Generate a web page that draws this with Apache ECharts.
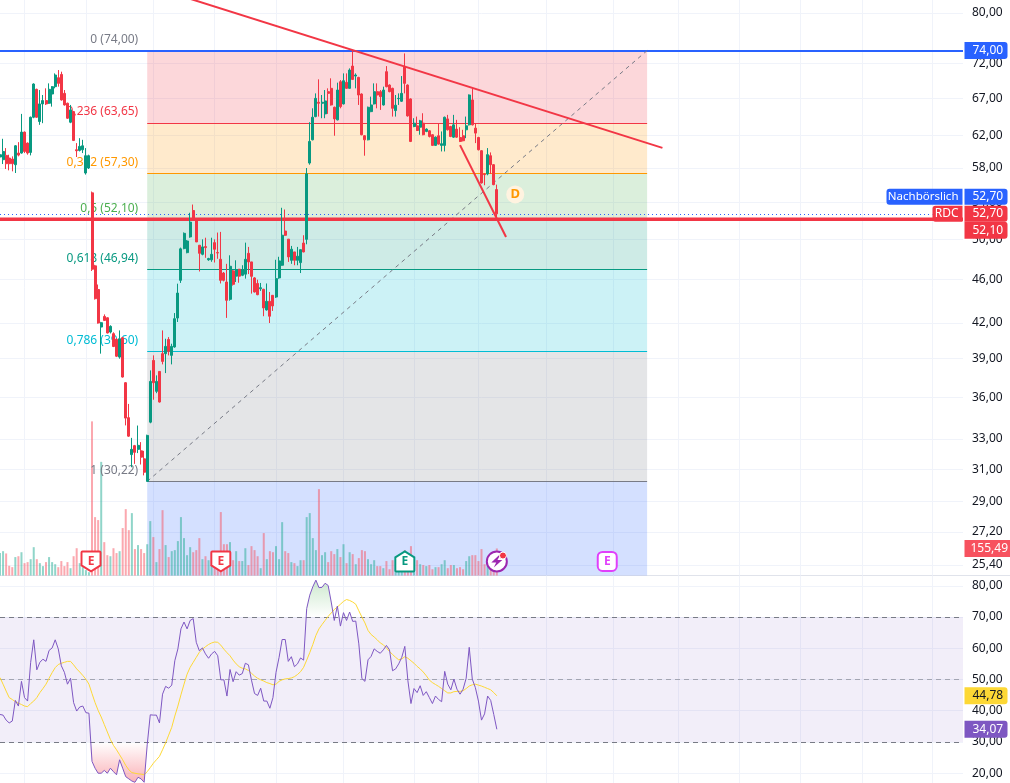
<!DOCTYPE html>
<html><head><meta charset="utf-8">
<style>html,body{margin:0;padding:0;background:#fff}#c{width:1010px;height:783px}</style>
<script src="https://cdn.jsdelivr.net/npm/echarts@6/dist/echarts.min.js"></script>
</head><body><div id="c"></div>
<script>
const opens=[59.31,58.98,59.51,59.18,59.06,58.37,59.8,59.8,62.46,61.05,59.88,64.42,68.27,63.85,66.23,66.69,66.32,67.61,68.65,69.94,70.42,67.7,66.32,63.76,65.18,60.21,60.13,60.21,57.37,57.97,55.05,47.3,45.03,41.65,42.58,42.46,41.22,41.08,40.6,39.13,40.74,37.1,34.5,31.95,32.55,32.3,32.2,31.67,30.22,34.18,38.86,36.44,37.98,39.41,39.41,40.59,39.27,39.96,42.44,45.9,49.03,48.62,50.23,53.07,52.02,49.37,48.45,49.23,47.9,47.9,49.64,48.62,47.95,46.6,45.74,44.12,46.81,46.3,46.97,46.38,46.49,48.55,47.69,46.13,45.6,45.1,45.05,43.16,43.94,44.49,44.33,46.13,47.36,50.85,50.0,47.85,48.69,47.85,47.62,49.6,49.98,58.57,61.47,64.51,66.46,66.32,64.87,67.94,68.41,65.77,64.07,69.36,66.23,69.27,68.41,71.65,70.18,69.98,67.61,61.99,61.47,65.18,66.23,67.94,67.94,66.09,70.82,68.88,68.41,65.32,66.96,66.6,71.56,68.88,66.92,63.19,63.28,63.1,63.63,62.55,62.63,62.12,60.76,61.99,60.76,60.76,64.2,63.19,61.81,62.85,61.77,61.99,62.76,63.41,66.78,62.98,61.77,60.09,57.25,57.25,59.47,58.37,55.43];
const closes=[59.59,60.0,58.49,58.49,58.49,60.71,59.55,62.46,60.0,59.8,64.42,69.03,64.42,66.23,66.69,66.23,68.27,68.65,70.33,69.12,66.78,66.09,64.29,65.41,61.39,60.09,60.63,60.71,59.47,59.47,46.97,44.18,42.0,42.03,42.23,41.14,41.71,40.0,39.2,40.65,37.54,34.47,33.2,32.3,32.1,32.57,31.78,30.8,33.25,37.2,37.1,37.2,35.64,38.78,40.01,39.6,40.01,42.38,44.7,49.0,50.61,49.81,51.81,52.09,49.71,48.55,49.2,49.13,48.02,48.45,48.96,48.58,45.9,45.9,44.03,47.26,45.52,46.94,46.3,46.94,47.95,47.69,46.28,44.8,44.55,45.2,43.34,43.94,42.6,43.52,46.06,47.79,50.41,50.4,48.19,48.96,47.85,48.26,48.92,48.69,57.28,61.26,64.42,67.0,66.32,66.46,66.64,67.7,66.09,64.2,68.17,65.86,69.5,68.41,71.06,69.69,70.33,67.47,62.12,61.47,65.77,66.09,67.94,67.47,67.24,68.17,68.65,67.94,65.63,66.05,67.0,67.7,69.12,64.6,61.26,63.63,62.67,63.94,62.12,62.85,61.9,60.76,61.81,60.92,60.97,64.42,62.76,61.9,63.41,61.81,61.26,61.35,63.28,67.47,63.41,62.33,60.21,56.2,57.18,59.6,58.37,56.0,52.7];
const lows=[58.9,58.45,57.85,57.69,57.57,57.37,59.39,59.72,59.8,59.6,59.51,64.29,64.33,63.41,63.63,66.09,66.23,65.86,68.41,68.65,66.69,66.0,64.2,63.63,61.31,59.31,60.0,59.8,57.18,57.85,46.8,44.1,41.95,39.41,42.2,41.1,41.1,39.95,39.13,39.0,37.5,33.95,33.15,31.12,31.34,32.05,31.3,30.6,30.22,34.1,35.81,36.3,35.6,38.54,37.85,39.27,38.54,39.9,42.09,45.65,48.96,48.55,50.15,52.05,49.7,46.75,48.35,48.1,47.8,47.7,47.63,48.0,45.6,45.8,42.45,44.0,45.4,45.74,45.67,46.3,46.06,46.5,44.65,44.75,44.5,44.9,42.6,43.1,42.0,43.07,44.25,46.05,47.3,50.33,47.69,47.5,47.36,47.36,46.6,48.65,49.47,58.37,61.4,64.42,64.51,64.29,64.29,64.87,66.0,61.99,64.0,65.63,66.15,68.35,68.35,69.6,68.41,66.09,62.05,59.47,61.4,65.1,66.15,65.63,65.41,66.0,68.55,67.85,64.51,64.51,66.09,66.5,67.7,64.5,61.18,63.1,62.6,62.12,62.05,62.45,61.77,60.68,60.68,60.85,60.0,60.0,62.67,61.81,61.72,61.72,61.18,61.27,61.68,63.33,63.33,61.05,60.13,56.12,55.93,57.1,57.25,55.93,52.1];
const highs=[60.3,61.6,60.42,59.59,59.39,60.8,61.17,64.87,62.54,61.13,64.51,69.12,68.36,68.17,67.47,68.41,69.12,68.74,70.57,71.06,70.82,68.17,66.41,66.09,65.27,61.05,61.68,61.47,60.42,59.6,55.2,47.4,45.5,42.1,42.76,42.5,41.8,41.2,40.7,41.36,40.8,37.15,35.5,33.08,32.6,33.94,32.79,32.2,33.3,38.06,39.27,37.67,38.0,41.36,40.65,40.79,40.23,42.88,45.58,49.13,50.7,49.9,52.82,53.73,52.1,49.4,49.98,50.15,48.1,50.15,49.98,50.69,50.76,46.7,47.5,48.35,46.9,47.85,47.0,47.36,49.64,49.2,47.7,46.2,45.96,45.65,45.1,45.6,44.8,44.5,47.9,48.2,53.37,53.18,50.02,49.3,48.7,49.2,48.95,50.41,57.97,63.76,65.63,67.7,69.7,67.47,68.17,68.41,69.85,65.86,69.22,69.6,70.57,70.57,71.31,74.07,70.57,70.07,67.7,62.08,65.86,67.24,69.12,69.12,68.17,68.65,71.65,68.98,68.5,67.47,67.7,70.18,73.56,68.98,67.0,64.29,64.51,64.07,64.96,62.95,62.72,62.2,61.9,63.63,62.55,64.51,64.74,63.28,64.74,64.07,63.1,62.76,64.51,67.55,68.41,63.54,61.85,60.17,57.37,60.42,59.88,58.45,56.0];
const volumes=[130,140,127,56,48,106,111,134,71,77,94,163,94,71,54,77,106,77,65,48,83,54,77,42,111,157,71,48,31,19,887,336,319,654,192,117,111,157,129,140,273,382,261,359,152,175,152,129,180,313,221,77,152,376,175,106,140,146,198,336,215,117,163,134,146,215,94,111,88,60,79,50,365,180,180,192,88,140,83,83,157,60,169,146,111,42,244,94,140,134,169,94,307,140,129,77,71,54,88,88,336,359,215,146,497,117,134,77,140,123,152,106,180,71,134,123,65,100,146,140,94,65,88,54,54,42,83,36,88,31,31,31,146,111,169,50,88,65,60,54,60,36,48,48,65,88,42,60,60,42,48,36,83,111,117,117,83,152,65,54,60,40,155.49];
const rsiValues=[38.8,38.6,37.0,36.1,36.7,43.3,41.5,49.4,44.2,43.1,55.5,62.7,53.1,55.5,56.5,55.8,59.3,60.1,62.7,59.8,54.4,52.3,48.5,50.4,42.6,39.9,41.2,41.5,39.4,39.2,23.8,21.6,20.0,20.0,20.9,20.0,21.6,20.5,19.5,24.3,21.6,18.9,18.2,17.5,17.1,18.7,18.2,17.1,29.1,38.7,38.6,38.6,36.1,45.3,47.8,47.2,48.2,56.0,59.8,66.2,68.4,66.2,68.9,69.5,61.9,59.2,60.1,58.2,56.8,58.2,59.0,57.6,49.9,49.9,44.7,53.2,49.3,52.5,51.4,51.9,55.2,54.7,49.8,45.5,44.9,47.2,43.1,43.1,40.8,44.2,52.3,57.1,62.8,62.8,55.8,57.3,54.1,55.0,56.9,56.2,72.7,77.0,79.7,81.8,79.4,79.5,80.8,80.1,74.8,68.9,73.5,67.1,71.4,68.9,71.6,68.6,68.7,61.4,50.3,49.4,56.3,57.4,59.8,59.0,58.4,59.5,60.9,59.5,52.8,53.4,55.0,57.1,60.6,49.6,42.3,47.1,45.8,48.0,44.9,46.1,44.2,42.3,44.7,43.6,42.9,52.6,48.5,46.7,50.1,46.9,45.3,46.9,50.4,60.3,50.1,47.4,43.1,37.0,39.0,44.7,43.3,38.8,34.07];
const rsiMa=[50.6,48.5,46.3,44.2,43.6,42.9,42.4,42.0,41.5,41.3,42.3,43.1,44.2,45.8,47.1,48.5,50.4,52.2,53.8,54.8,55.2,55.5,55.8,55.8,54.7,53.4,52.4,51.3,50.1,48.5,45.5,42.6,40.1,38.0,35.6,33.2,30.8,28.9,27.5,25.9,24.3,22.5,21.1,20.2,20.0,19.8,19.7,19.5,20.5,21.8,23.2,24.3,25.4,27.5,29.7,32.2,34.7,38.3,41.5,45.1,48.5,51.7,53.9,55.5,57.1,58.7,59.7,60.5,61.2,61.7,62.0,61.9,61.0,59.7,58.6,57.6,56.2,55.0,54.1,53.6,53.4,52.9,52.0,51.1,50.4,49.9,49.5,49.0,48.7,48.3,48.5,49.4,49.9,50.2,50.3,50.5,50.9,51.6,52.5,53.9,56.2,58.6,61.2,64.1,66.2,67.6,68.9,70.2,71.3,72.4,73.2,74.1,75.0,75.6,75.3,74.8,74.1,72.0,70.0,68.1,65.7,64.4,63.6,62.7,61.7,61.1,60.1,59.0,58.0,57.1,56.3,56.6,57.3,56.8,56.0,55.2,54.2,53.4,52.4,51.2,49.8,49.0,48.4,47.8,47.1,46.4,45.7,45.7,46.1,46.2,46.2,46.4,47.1,47.9,48.3,48.5,48.2,47.9,47.5,47.1,46.7,45.8,44.78];
const priceTicks=[80,72,67,62,58,54,50,46,42,39,36,33,31,29,27.2,25.4];
const rsiTicks=[80,70,60,50,40,30,20];
const fibLevels=[74,63.65,57.30,52.10,46.94,39.60,30.22];
const fibRatios=['0','0,236','0,382','0,5','0,618','0,786','1'];
const fibLineColors=['#787b86','#f23645','#ff9800','#4caf50','#089981','#00bcd4','#787b86'];
const fibFills=['rgba(242,54,69,.2)','rgba(255,152,0,.2)','rgba(76,175,80,.2)','rgba(8,153,129,.2)','rgba(0,188,212,.2)','rgba(120,123,134,.2)','rgba(41,98,255,.2)'];
const monthIdx=[8,28,50,70,90,112,135,156,178,200,221,241,261,281,304];
const FIB_START=48, FIB_END=211, LAST=314;
const categories=Array.from({length:LAST+1},(_,i)=>String(i));
const candleData=opens.map((o,i)=>[o,closes[i],lows[i],highs[i]]);
const comma=v=>Number(v).toFixed(2).replace('.',',');
const UP='#089981',DOWN='#f23645',FONT='"Noto Sans", sans-serif';
const GRID='#f0f3fa';
const PRICE_MIN=24.85,PRICE_MAX=82.2;
const VOL_MAX=3312;
const isMonth=new Set(monthIdx);
function xAxis(gi){return {type:'category',gridIndex:gi,data:categories,boundaryGap:false,
  axisLine:{show:false},axisTick:{show:false},axisLabel:{show:false},
  splitLine:{show:true,interval:(i)=>isMonth.has(i),lineStyle:{color:GRID,width:1}}};}
function tag(text,coord,bg,fg,opts){opts=opts||{};const left=opts.pos==='left';
  return {coord:coord,symbol:'rect',symbolSize:1,itemStyle:{color:'transparent'},
  label:{show:true,formatter:text,position:left?'left':'right',distance:left?0:1,offset:[0,opts.dy||0],color:fg,backgroundColor:bg,
    width:opts.w||35,height:opts.h||17,lineHeight:opts.h||17,align:left?'right':'left',verticalAlign:'middle',
    padding:left?[0,4,0,4]:[0,0,0,opts.pl||8],fontSize:opts.fs||12,fontFamily:FONT,
    borderRadius:opts.r||[0,3,3,0]}};}
const fibAreas=fibLevels.map((lv,i)=>[{coord:[FIB_START,lv],itemStyle:{color:fibFills[i]}},
  {coord:[FIB_END,i<fibLevels.length-1?fibLevels[i+1]:PRICE_MIN]}]);
const fibLines=fibLevels.map((lv,i)=>[{coord:[FIB_START,lv],lineStyle:{color:i==0?'rgba(0,0,0,0)':fibLineColors[i],width:1,type:'solid'},
  label:{show:true,position:'start',distance:9,offset:[0,-11],formatter:fibRatios[i]+' ('+comma(lv)+')',color:fibLineColors[i],fontSize:12,fontFamily:FONT}},
  {coord:[FIB_END,lv]}]);
const eLabel=(c)=>({show:true,position:'inside',formatter:'E',color:c,fontSize:12,fontWeight:'bold',fontFamily:FONT});
const PENT_DOWN='path://M1,0H19A1,1 0 0 1 20,1V14L10,20L0,14V1A1,1 0 0 1 1,0Z';
const PENT_UP='path://M10,0L20,6V19A1,1 0 0 1 19,20H1A1,1 0 0 1 0,19V6Z';
const BOLT='path://M6,0L0,7H4L2,12L9,4.5H5L7,0Z';
const option={animation:false,backgroundColor:'#fff',
 grid:[{left:-1,width:964,top:0,height:575.5,containLabel:false},{left:-1,width:964,top:576,height:207}],
 xAxis:[xAxis(0),xAxis(1)],
 yAxis:[
  {type:'log',gridIndex:0,position:'right',min:PRICE_MIN,max:PRICE_MAX,axisLine:{show:false},axisTick:{show:false,customValues:priceTicks},
   axisLabel:{customValues:priceTicks,formatter:comma,color:'#131722',fontSize:12,fontFamily:FONT,margin:9,padding:[2,0,0,0]},
   splitLine:{show:true,lineStyle:{color:GRID,width:1}}},
  {type:'value',gridIndex:0,min:0,max:VOL_MAX,show:false,splitLine:{show:false}},
  {type:'value',gridIndex:1,position:'right',min:16.87,max:83.13,axisLine:{show:false},axisTick:{show:false,customValues:rsiTicks},
   axisLabel:{customValues:rsiTicks,formatter:comma,color:'#131722',fontSize:12,fontFamily:FONT,margin:9,padding:[3,0,0,0]},
   splitLine:{show:true,lineStyle:{color:GRID,width:1}}}
 ],
 graphic:[{type:'rect',shape:{x:0,y:575,width:1010,height:1},style:{fill:'#e0e3eb'},z:0}],
 series:[
  {name:'Volume',type:'bar',xAxisIndex:0,yAxisIndex:1,data:volumes,barWidth:2,z:1,silent:true,
   itemStyle:{color:(p)=>closes[p.dataIndex]>=opens[p.dataIndex]?'rgba(34,171,148,.5)':'rgba(247,82,95,.5)'},
   markPoint:{z:10,silent:true,data:[
     {coord:[30,81],symbol:PENT_DOWN,symbolSize:[19,20],symbolOffset:[-1,0],itemStyle:{color:'#fff',borderColor:'#f23645',borderWidth:2},label:eLabel('#f23645')},
     {coord:[72,81],symbol:PENT_DOWN,symbolSize:[19,20],itemStyle:{color:'#fff',borderColor:'#f23645',borderWidth:2},label:eLabel('#f23645')},
     {coord:[132,81],symbol:PENT_UP,symbolSize:[19,20],itemStyle:{color:'#fff',borderColor:'#089981',borderWidth:2},label:eLabel('#089981')},
     {coord:[198,81],symbol:'roundRect',symbolSize:[19,19],itemStyle:{color:'#fff',borderColor:'#e040fb',borderWidth:2},label:eLabel('#e040fb')},
     {coord:[162,81],symbol:'circle',symbolSize:20,itemStyle:{color:'#fff',borderColor:'#9c27b0',borderWidth:2},label:{show:false}},
     {coord:[162,81],symbol:BOLT,symbolSize:[11,12],itemStyle:{color:'#9c27b0'},label:{show:false}},
     {coord:[164,115],symbol:'circle',symbolSize:7,itemStyle:{color:'#f23645',borderColor:'#fff',borderWidth:1},label:{show:false}},
     tag('155,49',[LAST,155.49],'#f7525f','#fff',{w:40,pl:6,r:[0,0,0,0]})
   ]}},
  {name:'Fib',type:'line',xAxisIndex:0,yAxisIndex:0,data:[[FIB_START,30.22],[FIB_END,74]],symbol:'none',z:2,silent:true,
   lineStyle:{color:'#787b86',width:1,type:[4,4]},
   markArea:{z:1,silent:true,data:fibAreas},
   markLine:{z:2,silent:true,symbol:'none',animation:false,data:fibLines}},
  {name:'Rays',type:'line',xAxisIndex:0,yAxisIndex:0,data:[[0,52.1],[LAST,52.1]],symbol:'none',z:2,silent:true,
   lineStyle:{color:'#f23645',width:3.5},
   markLine:{z:2,silent:true,symbol:'none',label:{show:false},data:[
     [{coord:[0,74],lineStyle:{color:'#2962ff',width:2,type:'solid'}},{coord:[LAST,74]}],
     [{coord:[0,52.7],lineStyle:{color:'#2962ff',width:1,type:[1,3]}},{coord:[304,52.7]}]
   ]},
   markPoint:{z:10,silent:true,data:[
     tag('74,00',[LAST,74],'#2962ff','#fff'),
     tag('Nachbörslich',[LAST,52.7],'#2962ff','#fff',{pos:'left',w:68,dy:-17,r:[3,0,0,3],h:16,fs:11.5}),
     tag('52,70',[LAST,52.7],'#2962ff','#fff',{dy:-17,h:16}),
     tag('RDC',[LAST,52.7],'#f23645','#fff',{pos:'left',w:22,r:[3,0,0,3],h:16}),
     tag('52,70',[LAST,52.7],'#f23645','#fff',{h:16}),
     tag('52,10',[LAST,52.1],'#f23645','#fff',{dy:11})
   ]}},
  {name:'Price',type:'candlestick',xAxisIndex:0,yAxisIndex:0,data:candleData,barWidth:2.5,z:3,silent:true,
   itemStyle:{color:UP,color0:DOWN,borderColor:UP,borderColor0:DOWN,borderWidth:1},
   markPoint:{z:10,silent:true,data:[
     {coord:[168,54.87],symbol:'circle',symbolSize:18,itemStyle:{color:'#fff3e0'},
      label:{show:true,position:'inside',formatter:'D',color:'#ff9800',fontSize:13,fontWeight:'bold',fontFamily:FONT}}
   ]}},
  {name:'Trend A',type:'line',xAxisIndex:0,yAxisIndex:0,data:[[62,82.4],[216,60.45]],symbol:'none',z:5,silent:true,lineStyle:{color:'#f23645',width:2}},
  {name:'Trend B',type:'line',xAxisIndex:0,yAxisIndex:0,data:[[150,60.8],[165,50.23]],symbol:'none',z:5,silent:true,lineStyle:{color:'#f23645',width:2}},
  {name:'RSI over',type:'line',xAxisIndex:1,yAxisIndex:2,data:rsiValues.map(v=>v>70?v:70),symbol:'none',z:2,silent:true,lineStyle:{opacity:0},
   areaStyle:{origin:70,color:{type:'linear',x:0,y:0,x2:0,y2:1,colorStops:[{offset:0,color:'rgba(76,175,80,.4)'},{offset:1,color:'rgba(76,175,80,0)'}]}}},
  {name:'RSI under',type:'line',xAxisIndex:1,yAxisIndex:2,data:rsiValues.map(v=>v<30?v:30),symbol:'none',z:2,silent:true,lineStyle:{opacity:0},
   areaStyle:{origin:30,color:{type:'linear',x:0,y:0,x2:0,y2:1,colorStops:[{offset:0,color:'rgba(242,54,69,0)'},{offset:1,color:'rgba(242,54,69,.55)'}]}}},
  {name:'RSI MA',type:'line',xAxisIndex:1,yAxisIndex:2,data:rsiMa,symbol:'none',z:3,silent:true,lineStyle:{color:'#fdd835',width:1},
   markPoint:{z:10,silent:true,data:[tag('44,78',[LAST,44.78],'#fdd835','#131722')]}},
  {name:'RSI',type:'line',xAxisIndex:1,yAxisIndex:2,data:rsiValues,symbol:'none',z:4,silent:true,lineStyle:{color:'#7e57c2',width:1},
   markArea:{z:1,silent:true,data:[[{coord:[0,70],itemStyle:{color:'rgba(126,87,194,.1)'}},{coord:[LAST,30]}]]},
   markLine:{z:2,silent:true,symbol:'none',label:{show:false},data:[
     {yAxis:70,lineStyle:{color:'#787b86',type:[5,4],width:1}},
     {yAxis:50,lineStyle:{color:'rgba(120,123,134,.6)',type:[5,4],width:1}},
     {yAxis:30,lineStyle:{color:'#787b86',type:[5,4],width:1}}]},
   markPoint:{z:10,silent:true,data:[tag('34,07',[LAST,34.07],'#7e57c2','#fff')]}}
 ]};
const chart=echarts.init(document.getElementById('c'),null,{renderer:'canvas'});
chart.setOption(option);
</script></body></html>
